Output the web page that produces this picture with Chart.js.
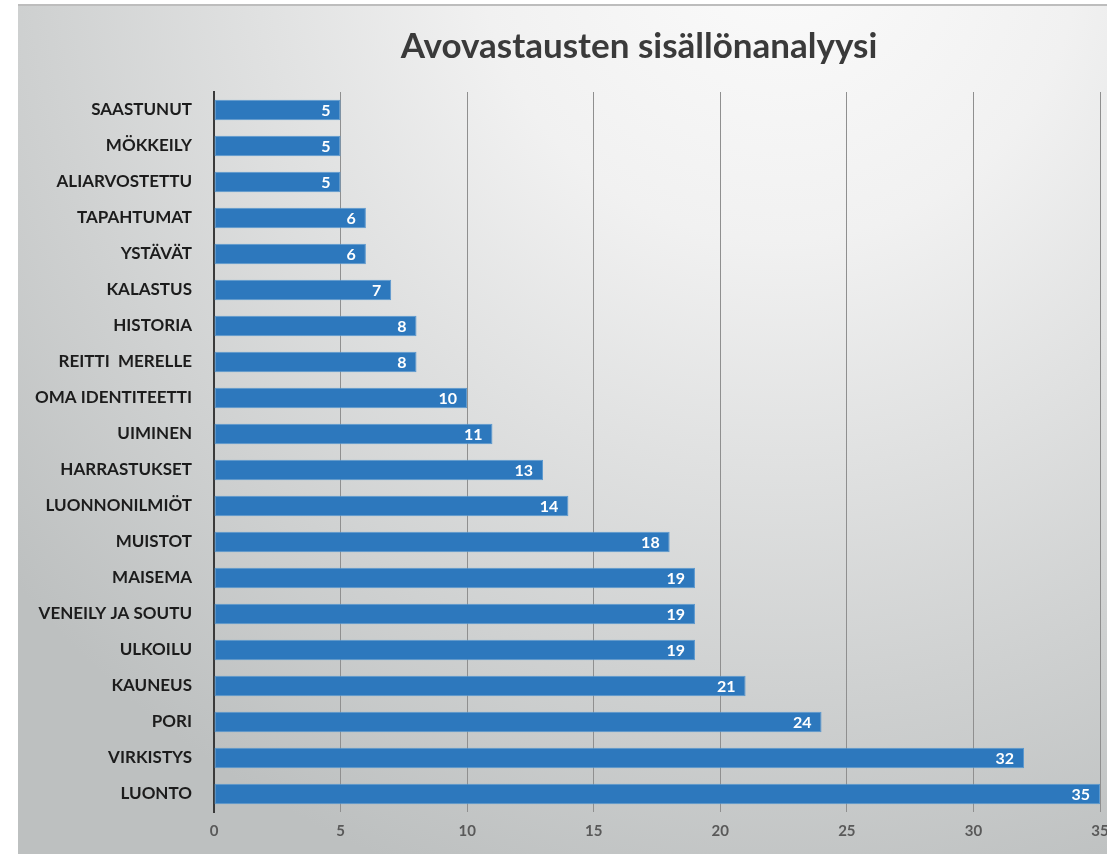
<!DOCTYPE html>
<html>
<head>
<meta charset="utf-8">
<title>Avovastausten sisällönanalyysi</title>
<script src="https://cdn.jsdelivr.net/npm/chart.js@4/dist/chart.umd.min.js"></script>
<style>
  html, body { margin: 0; padding: 0; background: #fff; }
  #wrap { width: 1107px; height: 854px; }
</style>
</head>
<body>
<div id="wrap"><canvas id="chart" width="1107" height="854"></canvas></div>
<script>
// --- data ---
const categories = [
  "SAASTUNUT", "MÖKKEILY", "ALIARVOSTETTU", "TAPAHTUMAT", "YSTÄVÄT",
  "KALASTUS", "HISTORIA", "REITTI  MERELLE", "OMA IDENTITEETTI", "UIMINEN",
  "HARRASTUKSET", "LUONNONILMIÖT", "MUISTOT", "MAISEMA", "VENEILY JA SOUTU",
  "ULKOILU", "KAUNEUS", "PORI", "VIRKISTYS", "LUONTO"
];
const counts = [5, 5, 5, 6, 6, 7, 8, 8, 10, 11, 13, 14, 18, 19, 19, 19, 21, 24, 32, 35];
const xTicks = [0, 5, 10, 15, 20, 25, 30, 35];
const chartTitle = "Avovastausten sisällönanalyysi";

const FONT = "Lato, 'Open Sans', sans-serif";

// grey shaded backdrop + title
const backdrop = {
  id: "backdrop",
  beforeDraw(chart) {
    const ctx = chart.ctx;
    const w = chart.width, h = chart.height;
    ctx.save();
    ctx.fillStyle = "#ffffff";
    ctx.fillRect(0, 0, w, h);
    const g = ctx.createRadialGradient(780, -60, 0, 780, -60, 1000);
    g.addColorStop(0, "#fbfbfb");
    g.addColorStop(0.3, "#f1f1f1");
    g.addColorStop(0.75, "#cfd1d1");
    g.addColorStop(1, "#bdc0c0");
    ctx.fillStyle = g;
    ctx.fillRect(18, 5, w - 18, h - 5);
    ctx.strokeStyle = "#bdbdbd";
    ctx.lineWidth = 2;
    ctx.beginPath();
    ctx.moveTo(18, 5);
    ctx.lineTo(w, 5);
    ctx.stroke();

    ctx.fillStyle = "#3a3a3a";
    ctx.font = "bold 35px " + FONT;
    ctx.textAlign = "center";
    ctx.textBaseline = "middle";
    ctx.fillText(chartTitle, 639, 47);
    ctx.restore();
  }
};

// value labels at the inner end of each bar
const barValues = {
  id: "barValues",
  afterDatasetsDraw(chart) {
    const ctx = chart.ctx;
    const meta = chart.getDatasetMeta(0);
    ctx.save();
    ctx.fillStyle = "#ffffff";
    ctx.font = "bold 16px " + FONT;
    ctx.textAlign = "right";
    ctx.textBaseline = "middle";
    meta.data.forEach((bar, i) => {
      ctx.fillText(String(counts[i]), bar.x - 10, bar.y + 1);
    });
    ctx.restore();
  }
};

new Chart(document.getElementById("chart"), {
  type: "bar",
  data: {
    labels: categories,
    datasets: [{
      data: counts,
      backgroundColor: "#2d78bd",
      borderColor: "#5a98cf",
      borderWidth: 1,
      borderSkipped: false,
      barPercentage: 0.57,
      categoryPercentage: 1
    }]
  },
  options: {
    indexAxis: "y",
    responsive: false,
    animation: false,
    layout: { padding: { left: 18, top: 92, right: 7, bottom: 0 } },
    plugins: {
      legend: { display: false },
      tooltip: { enabled: false },
      title: { display: false }
    },
    scales: {
      x: {
        min: 0,
        max: 35,
        afterBuildTicks: s => { s.ticks = xTicks.map(v => ({ value: v })); },
        afterFit: s => { s.height = 42; s.paddingLeft = 0; s.paddingRight = 0; },
        grid: { color: "#8f8f8f", lineWidth: 1, drawTicks: false },
        border: { display: false },
        ticks: {
          color: "#595959",
          padding: 10,
          maxRotation: 0,
          font: { family: FONT, size: 15, weight: "bold" }
        }
      },
      y: {
        afterFit: s => { s.width = 196; },
        grid: { display: false, drawTicks: false },
        border: { display: true, color: "#3a3a3a", width: 2 },
        ticks: {
          color: "#1c1c1c",
          padding: 22,
          autoSkip: false,
          font: { family: FONT, size: 17, weight: "bold" }
        }
      }
    }
  },
  plugins: [backdrop, barValues]
});
</script>
</body>
</html>
